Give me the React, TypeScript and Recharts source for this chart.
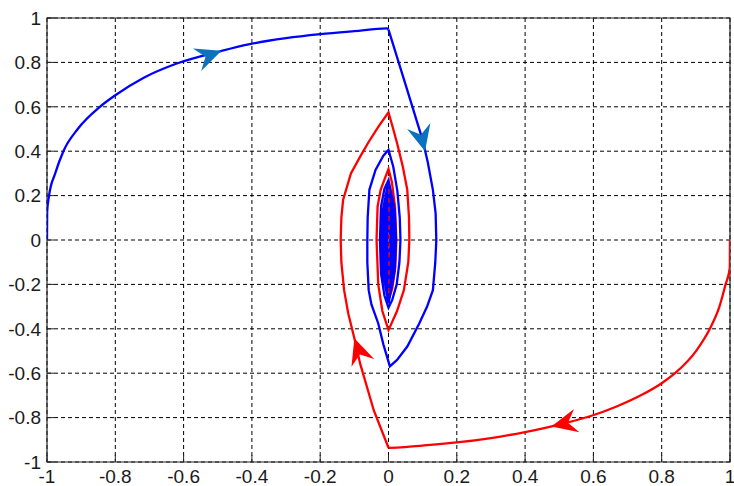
import { ComposedChart, Line, Scatter, XAxis, YAxis, CartesianGrid, ReferenceArea } from "recharts";

interface Pt {
  x: number;
  y: number;
}

interface ArrowPt extends Pt {
  angle: number;
}

const xTicks = [-1, -0.8, -0.6, -0.4, -0.2, 0, 0.2, 0.4, 0.6, 0.8, 1];
const yTicks = [-1, -0.8, -0.6, -0.4, -0.2, 0, 0.2, 0.4, 0.6, 0.8, 1];

// blue trajectory: the big arc from (-1, 0) to the top cusp
const blueApproach: Pt[] = [
  { x: -1, y: 0 }, { x: -0.9995, y: 0.128 }, { x: -0.994, y: 0.2 },
  { x: -0.976, y: 0.3 }, { x: -0.952, y: 0.4 }, { x: -0.91, y: 0.5 }, { x: -0.845, y: 0.6 },
  { x: -0.8, y: 0.652 }, { x: -0.718, y: 0.73 }, { x: -0.62, y: 0.795 }, { x: -0.493, y: 0.85 },
  { x: -0.41, y: 0.881 }, { x: -0.3, y: 0.909 }, { x: -0.2, y: 0.927 }, { x: -0.1, y: 0.941 },
  { x: -0.005, y: 0.953 }, { x: 0, y: 0.948 },
];

// blue trajectory: spiral around the origin
const blueSpiral: Pt[] = [
  { x: 0, y: 0.948 },
  { x: 0.05, y: 0.7 }, { x: 0.1, y: 0.45 }, { x: 0.115, y: 0.35 }, { x: 0.13, y: 0.226 },
  { x: 0.138, y: 0.12 }, { x: 0.14, y: 0 }, { x: 0.137, y: -0.1 }, { x: 0.13, y: -0.226 },
  { x: 0.113, y: -0.3 }, { x: 0.09, y: -0.376 }, { x: 0.055, y: -0.48 }, { x: 0.025, y: -0.54 },
  { x: 0.004, y: -0.569 },
  { x: -0.015, y: -0.47 }, { x: -0.03, y: -0.376 }, { x: -0.05, y: -0.29 }, { x: -0.058, y: -0.226 },
  { x: -0.062, y: -0.1 }, { x: -0.062, y: 0 }, { x: -0.061, y: 0.1 }, { x: -0.056, y: 0.226 },
  { x: -0.038, y: 0.316 }, { x: -0.015, y: 0.38 }, { x: 0, y: 0.406 },
  { x: 0.014, y: 0.33 }, { x: 0.026, y: 0.22 }, { x: 0.033, y: 0.1 }, { x: 0.035, y: 0 },
  { x: 0.032, y: -0.1 }, { x: 0.024, y: -0.2 }, { x: 0.011, y: -0.27 }, { x: 0, y: -0.305 },
  { x: -0.012, y: -0.25 }, { x: -0.022, y: -0.15 }, { x: -0.025, y: 0 }, { x: -0.022, y: 0.15 },
  { x: -0.012, y: 0.23 }, { x: 0, y: 0.27 },
  { x: 0.018, y: 0.14 }, { x: 0.022, y: 0 }, { x: 0.018, y: -0.14 }, { x: 0, y: -0.285 },
  { x: -0.017, y: -0.14 }, { x: -0.021, y: 0 }, { x: -0.017, y: 0.13 }, { x: 0, y: 0.265 },
  { x: 0.016, y: 0.13 }, { x: 0.02, y: 0 }, { x: 0.016, y: -0.14 }, { x: 0, y: -0.28 },
  { x: -0.015, y: -0.14 }, { x: -0.019, y: 0 }, { x: -0.015, y: 0.13 }, { x: 0, y: 0.26 },
  { x: 0.014, y: 0.13 }, { x: 0.017, y: 0 }, { x: 0.014, y: -0.13 }, { x: 0, y: -0.27 },
  { x: -0.012, y: -0.13 }, { x: -0.015, y: 0 }, { x: -0.012, y: 0.12 }, { x: 0, y: 0.25 },
  { x: 0.01, y: 0.12 }, { x: 0.013, y: 0 }, { x: 0.01, y: -0.13 }, { x: 0, y: -0.26 },
  { x: -0.009, y: -0.12 }, { x: -0.011, y: 0 }, { x: -0.009, y: 0.12 }, { x: 0, y: 0.24 },
  { x: 0.007, y: 0.12 }, { x: 0.009, y: 0 }, { x: 0.007, y: -0.12 }, { x: 0, y: -0.24 },
  { x: -0.006, y: -0.12 }, { x: -0.007, y: 0 }, { x: -0.006, y: 0.11 }, { x: 0, y: 0.22 },
  { x: 0.004, y: 0.11 }, { x: 0.005, y: 0 }, { x: 0.004, y: -0.11 }, { x: 0, y: -0.22 },
  { x: -0.002, y: -0.1 }, { x: -0.003, y: 0 }, { x: -0.002, y: 0.1 }, { x: 0, y: 0.2 },
];

// red trajectory: the big arc from (1, 0) to the bottom cusp
const redApproach: Pt[] = [
  { x: 1, y: 0 }, { x: 0.9995, y: -0.126 }, { x: 0.987, y: -0.2 },
  { x: 0.969, y: -0.3 }, { x: 0.941, y: -0.4 }, { x: 0.902, y: -0.497 }, { x: 0.839, y: -0.6 },
  { x: 0.8, y: -0.645 }, { x: 0.736, y: -0.702 }, { x: 0.668, y: -0.75 }, { x: 0.59, y: -0.794 },
  { x: 0.493, y: -0.834 }, { x: 0.4, y: -0.865 }, { x: 0.3, y: -0.892 }, { x: 0.2, y: -0.912 },
  { x: 0.1, y: -0.926 }, { x: 0.025, y: -0.935 }, { x: 0, y: -0.936 },
];

// red trajectory: spiral around the origin
const redSpiral: Pt[] = [
  { x: 0, y: -0.936 },
  { x: -0.043, y: -0.768 }, { x: -0.083, y: -0.557 }, { x: -0.1, y: -0.443 }, { x: -0.118, y: -0.33 },
  { x: -0.13, y: -0.226 }, { x: -0.138, y: -0.1 }, { x: -0.14, y: 0 }, { x: -0.138, y: 0.1 },
  { x: -0.133, y: 0.18 }, { x: -0.11, y: 0.3 }, { x: -0.085, y: 0.37 }, { x: -0.06, y: 0.437 },
  { x: -0.03, y: 0.51 }, { x: 0, y: 0.575 },
  { x: 0.012, y: 0.51 }, { x: 0.025, y: 0.437 }, { x: 0.042, y: 0.33 }, { x: 0.055, y: 0.226 },
  { x: 0.06, y: 0.1 }, { x: 0.061, y: 0 }, { x: 0.058, y: -0.1 }, { x: 0.045, y: -0.226 },
  { x: 0.025, y: -0.32 }, { x: 0, y: -0.406 },
  { x: -0.018, y: -0.32 }, { x: -0.03, y: -0.2 }, { x: -0.035, y: 0 }, { x: -0.032, y: 0.15 },
  { x: -0.023, y: 0.226 }, { x: -0.01, y: 0.28 }, { x: 0, y: 0.32 },
  { x: 0.01, y: 0.26 }, { x: 0.019, y: 0.15 }, { x: 0.023, y: 0 }, { x: 0.02, y: -0.12 },
  { x: 0.011, y: -0.22 }, { x: 0, y: -0.27 },
  { x: -0.01, y: -0.13 }, { x: -0.012, y: 0 }, { x: -0.01, y: 0.13 }, { x: 0, y: 0.26 },
  { x: 0.008, y: 0.12 }, { x: 0.01, y: 0 }, { x: 0.008, y: -0.12 }, { x: 0, y: -0.25 },
];

// innermost red turns, visible through the blue core
const redCore: Pt[] = [
  { x: 0.001, y: 0.23 }, { x: 0.002, y: 0 }, { x: 0.001, y: -0.25 },
];

const blueArrows: ArrowPt[] = [
  { x: -0.489, y: 0.852, angle: -20 },
  { x: 0.107, y: 0.4, angle: 76 },
];

const redArrows: ArrowPt[] = [
  { x: 0.477, y: -0.84, angle: 167 },
  { x: -0.1, y: -0.443, angle: -109 },
];

const fmt = (v: number) => String(Math.round(v * 10) / 10);

const tickStyle = { fontSize: 19, fill: "#1a1a1a", fontFamily: "'Liberation Sans', Arial, sans-serif" };
const tickLineStyle = { stroke: "#262626", strokeWidth: 1 };

const makeArrow = (fill: string) => (props: any) => {
  const { cx, cy, payload } = props;
  if (cx == null || cy == null) return null;
  return (
    <path
      d="M0,0 L-26,-12 L-17,0 L-26,12 Z"
      transform={`translate(${cx},${cy}) rotate(${payload.angle})`}
      fill={fill}
    />
  );
};

const App = () => {
  return (
    <div style={{ position: "fixed", left: 0, top: 0, width: 734, height: 486, background: "#fff" }}>
      <ComposedChart width={734} height={486} margin={{ top: 18, right: 4, left: 0, bottom: 0 }}>
        <CartesianGrid stroke="#000" strokeDasharray="4 3" />
        <XAxis
          type="number"
          dataKey="x"
          domain={[-1, 1]}
          ticks={xTicks}
          tickFormatter={fmt}
          interval={0}
          allowDataOverflow
          height={24}
          tickSize={-7}
          tickMargin={15}
          tick={tickStyle}
          axisLine={false}
          tickLine={tickLineStyle}
        />
        <XAxis
          xAxisId="top"
          orientation="top"
          type="number"
          dataKey="x"
          domain={[-1, 1]}
          ticks={xTicks}
          interval={0}
          allowDataOverflow
          height={0}
          tickSize={-7}
          tick={false}
          axisLine={false}
          tickLine={tickLineStyle}
        />
        <YAxis
          type="number"
          dataKey="y"
          domain={[-1, 1]}
          ticks={yTicks}
          tickFormatter={fmt}
          interval={0}
          allowDataOverflow
          width={47}
          tickSize={-7}
          tickMargin={13}
          tick={tickStyle}
          axisLine={false}
          tickLine={tickLineStyle}
        />
        <YAxis
          yAxisId="right"
          orientation="right"
          type="number"
          dataKey="y"
          domain={[-1, 1]}
          ticks={yTicks}
          interval={0}
          allowDataOverflow
          width={0}
          tickSize={-7}
          tick={false}
          axisLine={false}
          tickLine={tickLineStyle}
        />
        <ReferenceArea x1={-1} x2={1} y1={-1} y2={1} fill="none" stroke="#262626" strokeWidth={1.2} ifOverflow="visible" />
        <Line data={redApproach} dataKey="y" type="monotoneX" stroke="#ff0000" strokeWidth={2.3} dot={false} isAnimationActive={false} />
        <Line data={redSpiral} dataKey="y" type="linear" stroke="#ff0000" strokeWidth={2.3} dot={false} isAnimationActive={false} />
        <Line data={blueApproach} dataKey="y" type="monotoneX" stroke="#0000ff" strokeWidth={2.3} dot={false} isAnimationActive={false} />
        <Line data={blueSpiral} dataKey="y" type="linear" stroke="#0000ff" strokeWidth={2.3} dot={false} isAnimationActive={false} />
        <Line data={redCore} dataKey="y" type="linear" stroke="#ff0000" strokeWidth={1.3} strokeDasharray="5 4" dot={false} isAnimationActive={false} />
        <Scatter data={blueArrows} dataKey="y" shape={makeArrow("#0a72be")} isAnimationActive={false} />
        <Scatter data={redArrows} dataKey="y" shape={makeArrow("#ff0000")} isAnimationActive={false} />
      </ComposedChart>
    </div>
  );
};

export default App;
